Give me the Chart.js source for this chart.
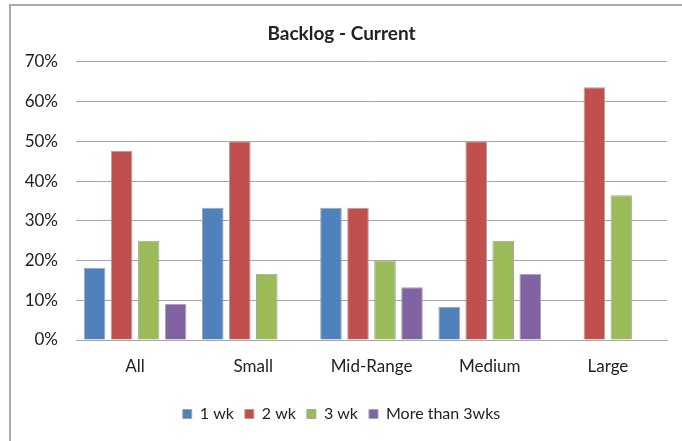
<!DOCTYPE html>
<html>
<head>
<meta charset="utf-8">
<script src="https://cdn.jsdelivr.net/npm/chart.js@4/dist/chart.umd.min.js"></script>
<style>
  html, body { margin: 0; padding: 0; background: #fff; overflow: hidden; }
  #frame { position: absolute; left: 9px; top: 4px; width: 720px; height: 480px; border: 2px solid #a9a9a9; box-sizing: border-box; }
  #wrap { position: absolute; left: 0; top: 0; width: 682px; height: 441px; }
</style>
</head>
<body>
<div id="frame"></div>
<div id="wrap"><canvas id="c" width="682" height="441"></canvas></div>
<script>
const categories = ["All", "Small", "Mid-Range", "Medium", "Large"];
const seriesNames = ["1 wk", "2 wk", "3 wk", "More than 3wks"];
const oneWk = [18.2, 33.3, 33.3, 8.3, 0];
const twoWk = [47.6, 50.0, 33.3, 50.0, 63.6];
const threeWk = [25.0, 16.7, 20.0, 25.0, 36.4];
const moreThan3 = [9.1, 0, 13.3, 16.7, 0];
const yTicks = [0, 10, 20, 30, 40, 50, 60, 70];
const colors = ["#4f81bd", "#c0504d", "#9bbb59", "#8064a2"];
const allSeries = [oneWk, twoWk, threeWk, moreThan3];

const FONT = "Lato, 'Open Sans', sans-serif";
const TEXT = "#222222";

new Chart(document.getElementById("c"), {
  type: "bar",
  data: {
    labels: categories,
    datasets: allSeries.map((d, i) => ({
      label: seriesNames[i],
      data: d,
      backgroundColor: colors[i],
      borderColor: "#a5a5a5",
      borderWidth: 1,
      categoryPercentage: 0.914,
      barPercentage: 0.8
    }))
  },
  options: {
    responsive: false,
    animation: false,
    devicePixelRatio: 1,
    layout: { padding: { left: 16, right: 15, top: 0, bottom: 9 } },
    plugins: {
      title: {
        display: true,
        text: "Backlog - Current",
        color: TEXT,
        font: { family: FONT, size: 19, weight: "bold" },
        padding: { top: 22, bottom: 17 }
      },
      legend: {
        position: "bottom",
        labels: {
          color: TEXT,
          font: { family: FONT, size: 16 },
          boxWidth: 9,
          boxHeight: 9,
          padding: 11
        }
      },
      tooltip: { enabled: false }
    },
    scales: {
      y: {
        min: 0,
        max: 70,
        afterBuildTicks: (s) => { s.ticks = yTicks.map(v => ({ value: v })); },
        afterFit: (s) => { s.width = 60; },
        ticks: {
          callback: (v) => v + "%",
          color: TEXT,
          font: { family: FONT, size: 17 },
          padding: 18
        },
        grid: { color: "#a6a6a6", lineWidth: 1, drawTicks: false },
        border: { display: false }
      },
      x: {
        afterFit: (s) => { s.height = 55; },
        ticks: {
          color: TEXT,
          font: { family: FONT, size: 17 },
          padding: 16
        },
        grid: { display: false, drawTicks: false },
        border: { display: true, color: "#a6a6a6", width: 1 }
      }
    }
  }
});
</script>
</body>
</html>
